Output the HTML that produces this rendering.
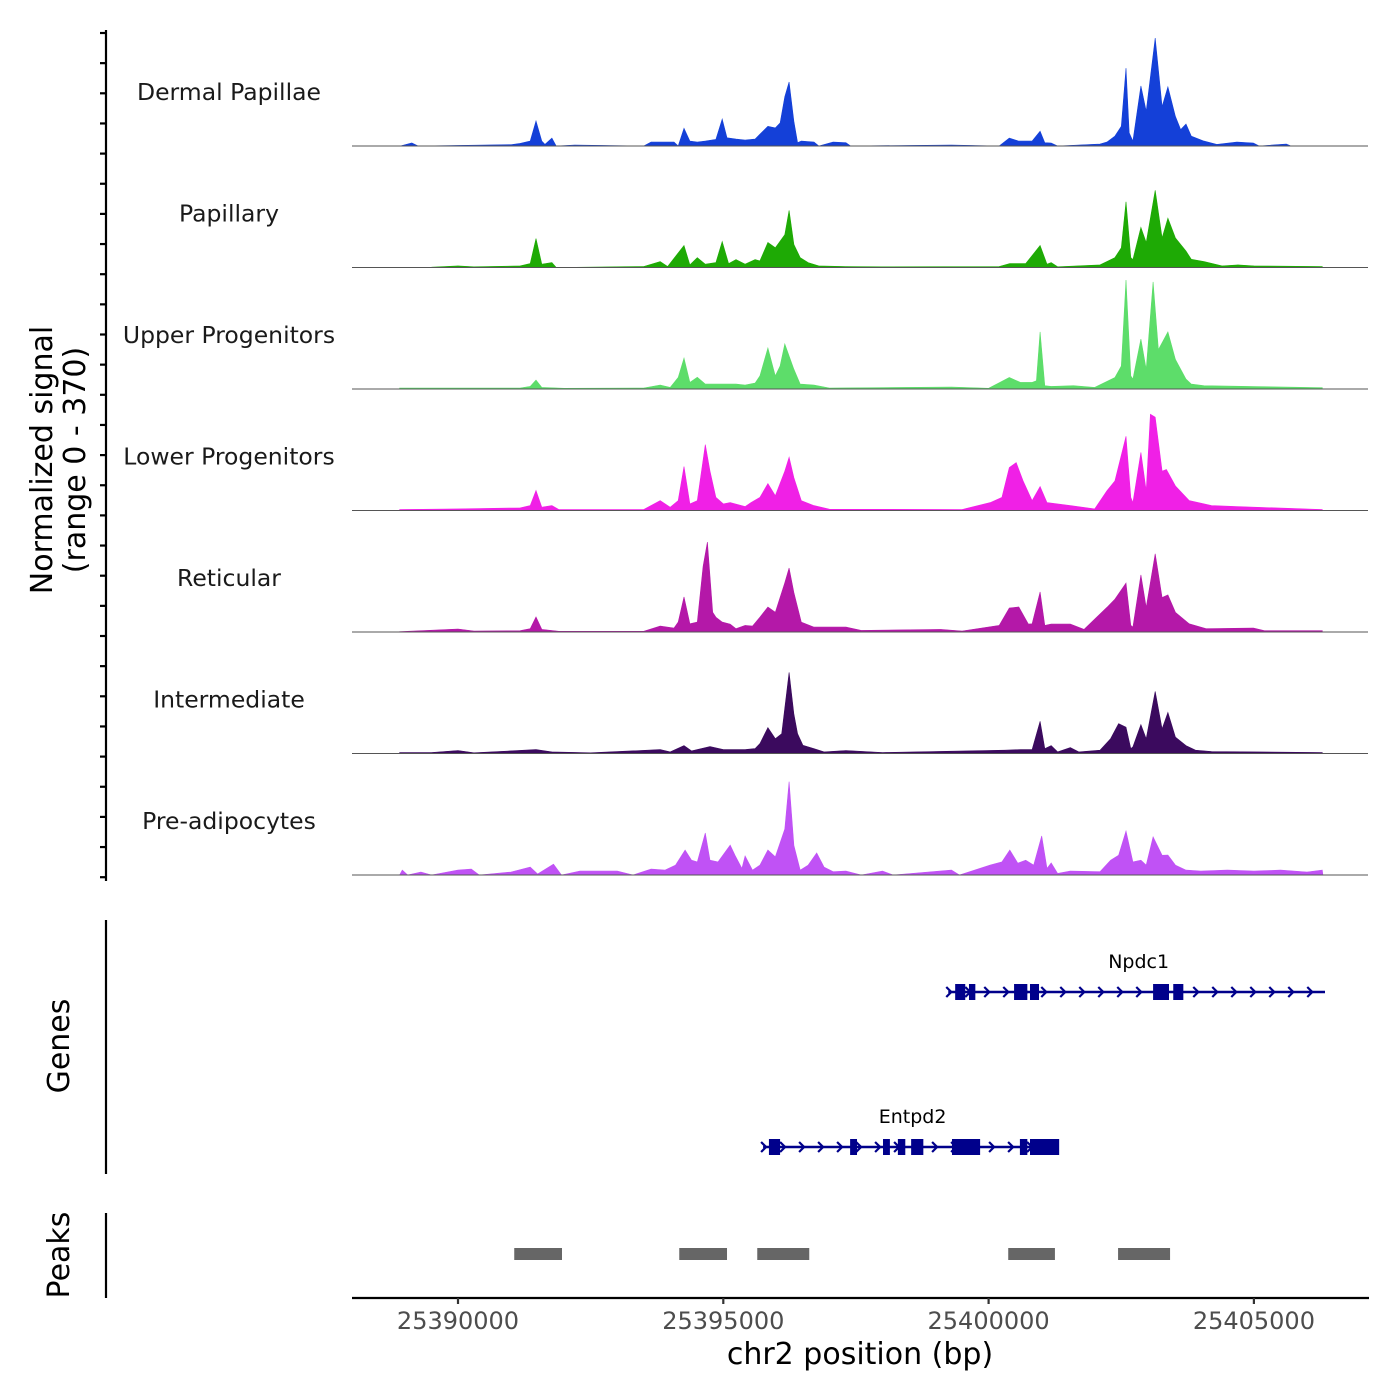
<!DOCTYPE html>
<html><head><meta charset="utf-8"><style>
html,body{margin:0;padding:0;background:#fff}
svg{display:block}
text{font-family:"DejaVu Sans","Liberation Sans",sans-serif}
</style></head><body>
<svg id="chart" width="1400" height="1400" viewBox="0 0 1400 1400" xmlns="http://www.w3.org/2000/svg">
<g id="tracks"></g>
<g id="genes"></g>
<g id="peaks"></g>
<g id="axes"></g>
</svg>
<script>
// ---- data (positions in kb offset from 25,390,000 bp; signal in normalized units 0-370)
const trackNames = ["Dermal Papillae","Papillary","Upper Progenitors","Lower Progenitors","Reticular","Intermediate","Pre-adipocytes"];
const trackColors = ["#1440d8","#1eaa05","#5ddd6a","#f020e6","#b418a8","#3b0a5e","#c052f5"];
const dpPos=[-1.09,-0.87,-0.75,0.5,1.0,1.17,1.36,1.47,1.58,1.64,1.77,1.85,2.2,3.5,3.64,4.07,4.15,4.26,4.37,4.51,4.66,4.86,4.98,5.07,5.24,5.41,5.60,5.69,5.84,5.98,6.07,6.16,6.24,6.33,6.40,6.47,6.71,6.8,7.07,7.31,7.4,9.3,10.2,10.39,10.57,10.82,10.97,11.06,11.18,11.3,12.1,12.23,12.38,12.5,12.59,12.65,12.72,12.87,12.97,13.14,13.27,13.38,13.52,13.62,13.72,13.82,14.06,14.3,14.68,14.99,15.1,15.61,15.7];
const dpVal=[0,9,0,3,4,8,15,76,15,5,24,0,3,0,12,12,0,54,15,12,15,20,82,25,21,18,21,36,60,55,70,150,195,75,10,15,12,0,12,10,0,3,0,24,15,15,45,10,9,0,6,12,30,60,237,40,15,183,106,329,120,180,90,50,67,30,15,5,12,9,0,6,0];
const papPos=[-1.1,-0.5,0.0,0.3,1.17,1.36,1.47,1.58,1.77,1.85,3.5,3.81,3.95,4.26,4.37,4.51,4.66,4.86,4.98,5.1,5.24,5.41,5.60,5.69,5.84,5.98,6.16,6.24,6.33,6.45,6.6,6.8,7.3,8,10.2,10.4,10.7,10.97,11.1,11.18,11.3,12.1,12.38,12.5,12.59,12.68,12.72,12.87,12.97,13.14,13.27,13.38,13.52,13.72,13.82,14.06,14.4,14.7,15.0,16.29];
const papVal=[0,1,5,2,5,12,88,10,15,0,3,18,3,67,8,30,10,15,79,12,24,10,24,20,76,60,100,174,70,30,15,5,3,2,3,12,12,67,10,15,2,8,30,60,200,30,24,122,76,235,90,150,90,50,25,18,5,8,5,3];
const upPos=[-1.1,0,1.17,1.36,1.47,1.58,2.0,3.5,3.81,4.0,4.15,4.26,4.37,4.51,4.66,4.86,5.24,5.41,5.60,5.69,5.84,5.98,6.07,6.16,6.33,6.45,6.71,7.0,9.3,10.0,10.39,10.6,10.82,10.9,10.97,11.06,11.18,11.6,12.0,12.38,12.5,12.59,12.68,12.72,12.87,12.97,13.10,13.2,13.38,13.52,13.72,13.82,14.06,16.29];
const upVal=[3,3,3,8,27,5,2,3,12,5,35,94,20,36,15,15,15,12,18,40,125,40,70,137,60,15,12,3,6,2,35,20,20,25,174,10,8,10,5,35,70,332,40,30,152,60,326,120,174,90,30,15,10,4];
const lpPos=[-1.1,0,1.17,1.36,1.47,1.58,1.77,1.9,3.5,3.81,4.0,4.15,4.26,4.37,4.51,4.66,4.75,4.86,5.0,5.13,5.41,5.52,5.69,5.84,5.98,6.16,6.24,6.33,6.47,6.71,7.0,9.5,10.03,10.25,10.39,10.52,10.65,10.82,10.97,11.1,11.54,12.0,12.23,12.38,12.59,12.68,12.72,12.87,12.97,13.05,13.14,13.27,13.35,13.52,13.78,14.2,14.68,16.29];
const lpVal=[3,5,8,15,61,10,15,3,3,30,10,30,134,20,30,201,120,40,20,24,12,24,40,82,45,120,162,100,30,15,4,3,24,40,131,146,90,30,73,24,15,5,60,90,226,40,24,177,60,293,284,120,125,75,30,15,12,3];
const retPos=[-1.1,0,0.3,1.17,1.36,1.47,1.58,1.9,3.5,3.81,4.07,4.15,4.26,4.37,4.51,4.62,4.70,4.8,4.86,4.98,5.13,5.24,5.41,5.55,5.69,5.84,5.98,6.16,6.24,6.33,6.47,6.71,7.07,7.31,7.6,9.1,9.5,10.2,10.39,10.57,10.75,10.82,10.97,11.06,11.18,11.54,11.8,12.23,12.38,12.59,12.68,12.72,12.87,12.97,13.14,13.27,13.38,13.52,13.78,14.1,14.99,15.2,16.29];
const retVal=[1,9,3,4,10,46,8,2,2,18,12,30,107,25,30,200,274,60,45,30,24,10,20,18,45,76,60,150,195,120,30,15,15,15,5,8,3,20,73,76,24,25,122,20,24,24,8,75,100,149,20,15,174,75,238,105,113,60,25,10,12,4,4];
const intPos=[-1.1,-0.5,0,0.3,1.47,1.77,2.5,3.81,4.0,4.26,4.4,4.75,5.0,5.41,5.6,5.69,5.84,5.98,6.10,6.24,6.33,6.40,6.50,6.71,6.9,7.31,8,10.3,10.6,10.82,10.97,11.06,11.18,11.3,11.54,11.7,12.1,12.3,12.45,12.59,12.68,12.72,12.87,12.97,13.14,13.27,13.38,13.52,13.72,13.9,14.2,16.29];
const intVal=[3,3,9,2,12,5,2,12,5,24,8,21,12,12,15,30,79,45,60,247,120,60,25,15,5,9,3,10,12,12,98,15,24,5,18,5,10,45,91,80,15,20,88,45,189,75,125,50,24,10,6,3];
const paPos=[-1.1,-1.05,-0.95,-0.7,-0.5,0,0.25,0.4,1.0,1.36,1.5,1.8,1.95,2.3,3.0,3.3,3.64,3.9,4.1,4.28,4.4,4.51,4.66,4.75,4.9,5.13,5.22,5.35,5.41,5.55,5.69,5.84,5.98,6.16,6.24,6.33,6.45,6.6,6.76,6.9,7.07,7.31,7.6,8.0,8.2,9.3,9.45,10.03,10.25,10.4,10.55,10.7,10.85,11.0,11.1,11.18,11.3,11.54,12.1,12.3,12.45,12.59,12.72,12.87,12.97,13.1,13.27,13.38,13.52,13.72,14.0,14.5,15.0,15.5,16.0,16.29,16.3];
const paVal=[0,15,0,9,0,15,18,0,9,24,3,33,0,12,12,0,18,15,30,76,45,40,128,45,40,91,60,20,58,15,30,76,55,140,284,90,15,30,67,24,10,12,0,12,0,15,0,30,40,76,36,45,30,119,20,37,5,12,10,45,60,134,40,45,30,116,60,61,30,15,12,15,12,15,9,15,0];
const trackPos=[dpPos,papPos,upPos,lpPos,retPos,intPos,paPos];
const trackVal=[dpVal,papVal,upVal,lpVal,retVal,intVal,paVal];
const geneNames=["Npdc1","Entpd2"];
const geneStart=[9.24,5.75];
const geneEnd=[16.34,11.31];
const npdc1ExonStart=[9.37,9.63,10.48,10.78,13.10,13.48];
const npdc1ExonEnd=[9.56,9.75,10.73,10.95,13.40,13.67];
const entpd2ExonStart=[5.86,7.39,8.01,8.29,8.54,9.31,10.59,10.78];
const entpd2ExonEnd=[6.07,7.52,8.14,8.43,8.77,9.84,10.73,11.33];
const peakStart=[1.06,4.17,5.64,10.37,12.44];
const peakEnd=[1.96,5.07,6.62,11.25,13.42];
const xTicks=[25390000,25395000,25400000,25405000];
const yMax=370;

// ---- scales
const NS="http://www.w3.org/2000/svg";
const X0=458, PXPERBP=265.3/5000;
function xBp(bp){return X0+(bp-25390000)*PXPERBP;}
function xKb(kb){return xBp(25390000+kb*1000);}
const TRACK_H=121.5, BASE0=146;
function yVal(i,v){return BASE0+i*TRACK_H - v/yMax*TRACK_H;}
function mk(tag,attrs,parent){const e=document.createElementNS(NS,tag);for(const k in attrs)e.setAttribute(k,attrs[k]);parent.appendChild(e);return e;}

const gT=document.getElementById('tracks');
trackNames.forEach((name,i)=>{
  const base=BASE0+i*TRACK_H;
  const P=trackPos[i],V=trackVal[i];
  let d=`M${xKb(P[0]).toFixed(1)},${base}`;
  for(let j=0;j<P.length;j++)d+=`L${xKb(P[j]).toFixed(1)},${yVal(i,V[j]).toFixed(1)}`;
  d+=`L${xKb(P[P.length-1]).toFixed(1)},${base}Z`;
  const a=mk('path',{d:d,fill:trackColors[i],stroke:trackColors[i],'stroke-width':0.6},gT);
  
  
  const bl=mk('line',{x1:352,x2:1368,y1:base,y2:base,stroke:'#555','stroke-width':1},gT);
  
  
  const t=mk('text',{x:229,y:base-46,'text-anchor':'middle','font-size':23.5,fill:'#1a1a1a'},gT);
  t.textContent=name;
  
  
});

// genes
const gG=document.getElementById('genes');
const geneY=[992,1147];
const labelShift=[2,2];
const exS=[npdc1ExonStart,entpd2ExonStart], exE=[npdc1ExonEnd,entpd2ExonEnd];
geneNames.forEach((g,i)=>{
  const y=geneY[i], x1=xKb(geneStart[i]), x2=xKb(geneEnd[i]);
  const grp=mk('g',{},gG);
  
  
  mk('line',{x1:x1,x2:x2,y1:y,y2:y,stroke:'#00008b','stroke-width':2.5},grp);
  for(let x=x1+2;x<=x2;x+=19){
    mk('polyline',{points:`${x-4},${y-5} ${x+1},${y} ${x-4},${y+5}`,fill:'none',stroke:'#00008b','stroke-width':2.2},grp);
  }
  for(let k=0;k<exS[i].length;k++){
    const a=xKb(exS[i][k]),b=xKb(exE[i][k]);
    const r=mk('rect',{x:a,y:y-8,width:b-a,height:16,fill:'#00008b'},grp);
    
    
  }
  const t=mk('text',{x:(x1+x2)/2 + labelShift[i],y:y-24,'text-anchor':'middle','font-size':19,fill:'#000'},grp);
  t.textContent=g;
  
  
});

// peaks
const gP=document.getElementById('peaks');
peakStart.forEach((s,i)=>{
  const a=xKb(s),b=xKb(peakEnd[i]);
  const r=mk('rect',{x:a,y:1248,width:b-a,height:12,fill:'#666'},gP);
  
  
});

// axes
const gA=document.getElementById('axes');
mk('line',{x1:106,x2:106,y1:30,y2:881,stroke:'#000','stroke-width':2.2},gA);
for(let k=0;k<29;k++){const y=33+k*30.15;mk('line',{x1:100,x2:106,y1:y,y2:y,stroke:'#000','stroke-width':2.2},gA);}
mk('line',{x1:106,x2:106,y1:920,y2:1174,stroke:'#000','stroke-width':2.2},gA);
mk('line',{x1:106,x2:106,y1:1213,y2:1298,stroke:'#000','stroke-width':2.2},gA);
mk('line',{x1:352,x2:1369,y1:1298,y2:1298,stroke:'#000','stroke-width':2.2},gA);
xTicks.forEach(v=>{
  const x=xBp(v);
  mk('line',{x1:x,x2:x,y1:1298,y2:1304,stroke:'#333','stroke-width':2.2},gA);
  const t=mk('text',{x:x,y:1329,'text-anchor':'middle','font-size':24,fill:'#4d4d4d'},gA);
  t.textContent=v;
  
  
});
const xt=mk('text',{x:860,y:1364,'text-anchor':'middle','font-size':30,fill:'#000'},gA);
xt.textContent='chr2 position (bp)';


const yt=mk('text',{'text-anchor':'middle','font-size':30,fill:'#000'},gA);


yt.setAttribute('transform','translate(52,460) rotate(-90)');
const ts1=mk('tspan',{x:0,y:0},yt);ts1.textContent='Normalized signal';
const ts2=mk('tspan',{x:0,y:33},yt);ts2.textContent='(range 0 - 370)';
const gt=mk('text',{transform:'translate(69,1046) rotate(-90)','text-anchor':'middle','font-size':30,fill:'#000'},gA);
gt.textContent='Genes';


const pt=mk('text',{transform:'translate(69,1255) rotate(-90)','text-anchor':'middle','font-size':30,fill:'#000'},gA);
pt.textContent='Peaks';


</script>
</body></html>
